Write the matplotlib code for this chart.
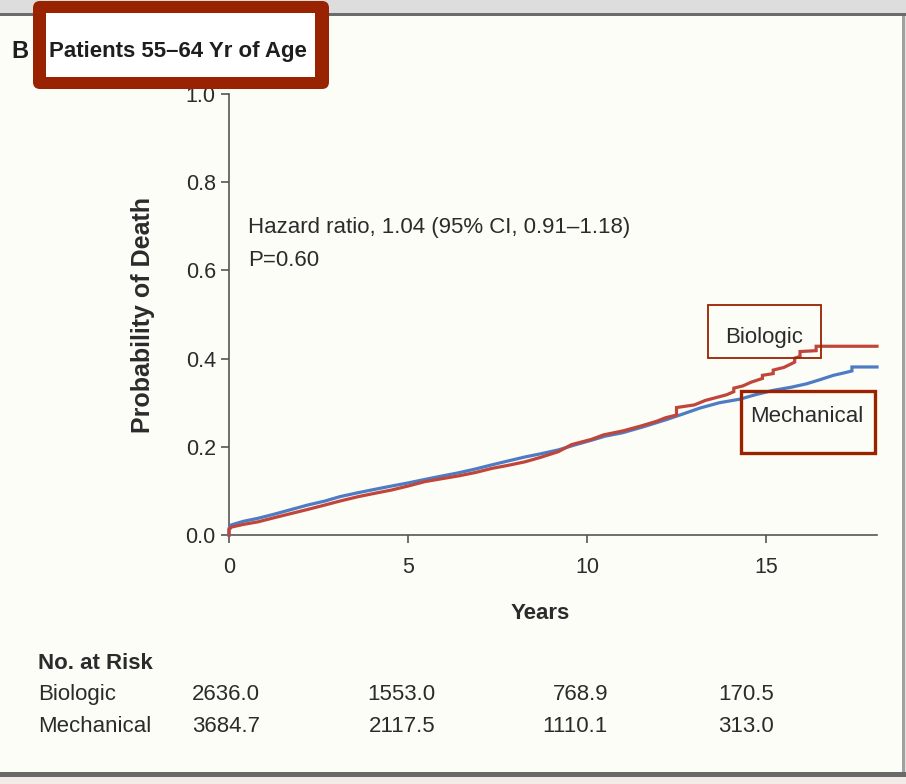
import matplotlib
matplotlib.use("Agg")
import matplotlib.pyplot as plt
from matplotlib import font_manager as fm
from matplotlib.patches import Rectangle, FancyBboxPatch
from matplotlib.transforms import Affine2D

# ---- data -------------------------------------------------------------
# Cumulative probability of death, biologic valve (vertices of the curve)
bio_years = [0, 0, 0.07, 0.4, 0.82, 1.3, 1.75, 2.2, 2.68, 3.1,
             3.61, 4.1, 4.54, 5.0, 5.47, 5.9, 6.41, 6.9, 7.34, 7.8,
             8.27, 8.7, 9.2, 9.57, 10.13, 10.46, 11.0, 11.5, 11.95, 12.2,
             12.5, 12.5, 13.0, 13.3, 13.9, 14.1, 14.1, 14.35, 14.6, 14.9,
             14.9, 15.2, 15.2, 15.5, 15.8, 15.8, 15.95, 15.95, 16.4, 16.4,
             18.1]
bio_prob = [0, 0.012, 0.018, 0.024, 0.030, 0.040, 0.049, 0.058, 0.068, 0.077,
            0.087, 0.095, 0.102, 0.111, 0.121, 0.127, 0.134, 0.142, 0.151, 0.158,
            0.166, 0.176, 0.189, 0.205, 0.217, 0.227, 0.236, 0.247, 0.258, 0.266,
            0.272, 0.289, 0.295, 0.305, 0.318, 0.325, 0.333, 0.338, 0.347, 0.355,
            0.362, 0.366, 0.374, 0.380, 0.392, 0.401, 0.405, 0.416, 0.418, 0.428,
            0.428]

# Cumulative probability of death, mechanical valve (vertices of the curve)
mech_years = [0, 0, 0.07, 0.4, 0.82, 1.3, 1.75, 2.2, 2.68, 3.1,
              3.61, 4.1, 4.54, 5.0, 5.47, 5.9, 6.41, 6.9, 7.34, 7.8,
              8.27, 8.7, 9.2, 9.65, 10.13, 10.5, 11.0, 11.6, 12.23, 12.7,
              13.16, 13.7, 14.27, 14.7, 15.2, 15.7, 16.14, 16.5, 16.88, 17.2,
              17.4, 17.4, 18.1]
mech_prob = [0, 0.015, 0.023, 0.031, 0.038, 0.048, 0.058, 0.068, 0.077, 0.087,
             0.096, 0.104, 0.111, 0.118, 0.126, 0.133, 0.141, 0.150, 0.159, 0.168,
             0.177, 0.184, 0.193, 0.204, 0.215, 0.224, 0.232, 0.246, 0.262, 0.275,
             0.288, 0.300, 0.308, 0.318, 0.328, 0.335, 0.343, 0.352, 0.362, 0.368,
             0.372, 0.381, 0.381]

x_ticks = [0, 5, 10, 15]
y_ticks = [0.0, 0.2, 0.4, 0.6, 0.8, 1.0]

risk_groups = ["Biologic", "Mechanical"]
risk_biologic = ["2636.0", "1553.0", "768.9", "170.5"]
risk_mechanical = ["3684.7", "2117.5", "1110.1", "313.0"]

hazard_text = "Hazard ratio, 1.04 (95% CI, 0.91\u20131.18)"
p_text = "P=0.60"
title_text = "Patients 55\u201364 Yr of Age"

# ---- fonts ------------------------------------------------------------
available = {f.name for f in fm.fontManager.ttflist}
REG = "Liberation Sans" if "Liberation Sans" in available else "DejaVu Sans"
plt.rcParams["font.family"] = [REG, "DejaVu Sans"]

# ---- colours ----------------------------------------------------------
RED = "#c0463c"
BLUE = "#4e7cc4"
BOX = "#992200"
INK = "#2b2b2b"
AXIS = "#555555"
BG = "#fdfdf7"

W, H = 906, 784
fig = plt.figure(figsize=(W / 100, H / 100), dpi=100, facecolor=BG)
# pixel coordinates measured from the top-left corner
pix = Affine2D().scale(1 / W, -1 / H).translate(0, 1) + fig.transFigure

# panel frame
for (x0, y0, w, h, c) in [(0, 0, W, 13, "#dddddd"), (0, 13, W, 3, "#6b6b6b"),
                          (902, 16, 3, 757, "#a0a0a0"), (905, 16, 1, 757, "#e2e2e2"),
                          (0, 772, W, 5, "#6a6a6a"), (0, 777, W, 7, "#f2ebe8")]:
    fig.add_artist(Rectangle((x0, y0), w, h, transform=pix, color=c, lw=0, zorder=1))

# ---- axes -------------------------------------------------------------
ax = fig.add_axes([229 / W, 1 - 535 / H, 648 / W, 441 / H])
ax.set_facecolor("none")
ax.set_xlim(0, 18.1)
ax.set_ylim(0, 1.0)
for s in ("top", "right"):
    ax.spines[s].set_visible(False)
for s in ("left", "bottom"):
    ax.spines[s].set_color(AXIS)
    ax.spines[s].set_linewidth(1.2)
ax.set_xticks(x_ticks)
ax.set_xticklabels([str(v) for v in x_ticks])
ax.set_yticks(y_ticks)
ax.set_yticklabels([f"{v:.1f}" for v in y_ticks])
ax.tick_params(axis="both", direction="out", length=5.5, width=1.2,
               color=AXIS, labelcolor=INK, labelsize=15.5)
ax.tick_params(axis="x", pad=10)
ax.tick_params(axis="y", pad=4)

ax.plot(mech_years, mech_prob, color=BLUE, lw=2.3, clip_on=False, zorder=3,
        solid_joinstyle="miter")
ax.plot(bio_years, bio_prob, color=RED, lw=2.3, clip_on=False, zorder=4,
        solid_joinstyle="miter")

ax.set_ylabel("Probability of Death", fontsize=18, fontweight="bold", color=INK)
ax.yaxis.set_label_coords(-0.1327, 0.499)
ax.yaxis.label.set_verticalalignment("center")
ax.set_xlabel("Years", fontsize=16, fontweight="bold", color=INK)
ax.xaxis.set_label_coords(0.48, -0.177)
ax.xaxis.label.set_verticalalignment("center")

fig.text(248, 227, hazard_text, transform=pix, ha="left", va="center",
         fontsize=16, color=INK)
fig.text(248, 260, p_text, transform=pix, ha="left", va="center",
         fontsize=16, color=INK)

# curve labels in outlined boxes
fig.add_artist(Rectangle((708, 305), 113, 53, transform=pix, fill=False,
                         ec=BOX, lw=1.3, zorder=6))
fig.text(764, 338, "Biologic", transform=pix, ha="center", va="center",
         fontsize=16, color=INK, zorder=7)
fig.add_artist(Rectangle((741, 391), 134, 62, transform=pix, fill=False,
                         ec=BOX, lw=2.4, zorder=6))
fig.text(807, 417, "Mechanical", transform=pix, ha="center", va="center",
         fontsize=16, color=INK, zorder=7)

# ---- title ------------------------------------------------------------
fig.add_artist(FancyBboxPatch((33, 1), 296, 88, boxstyle="round,pad=0,rounding_size=7",
                              transform=pix, fc=BOX, ec="none", zorder=10))
fig.add_artist(Rectangle((46, 13), 269, 64, transform=pix, fc="white",
                         ec="none", zorder=11))
fig.text(49, 51, title_text, transform=pix, ha="left", va="center",
         fontsize=16, fontweight="bold", color="#1e1e1e", zorder=12)
fig.text(11, 51, "B", transform=pix, ha="left", va="center",
         fontsize=17, fontweight="bold", color="#1e1e1e", zorder=12)

# ---- number at risk ---------------------------------------------------
fig.text(38, 664, "No. at Risk", transform=pix, ha="left", va="center",
         fontsize=16, fontweight="bold", color=INK)
col_right = [260, 435, 608, 774]
for row_y, name, vals in [(695, risk_groups[0], risk_biologic),
                          (727, risk_groups[1], risk_mechanical)]:
    fig.text(38, row_y, name, transform=pix, ha="left", va="center",
             fontsize=16, color=INK)
    for xr, v in zip(col_right, vals):
        fig.text(xr, row_y, v, transform=pix, ha="right", va="center",
                 fontsize=16, color=INK)

fig.savefig("out.png", dpi=100, facecolor=BG)
